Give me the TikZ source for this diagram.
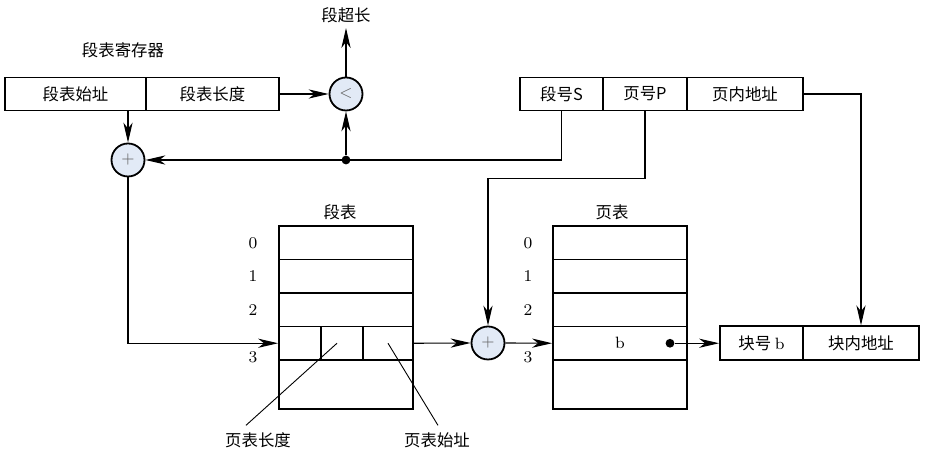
\documentclass[tikz,border=0pt]{standalone}
\usepackage{fontspec}
\newfontfamily\cjk{Noto Sans CJK SC}
\usetikzlibrary{positioning, arrows.meta, calc}
\definecolor{opfill}{RGB}{226,234,246}

\begin{document}
\begin{tikzpicture}[x=0.5pt, y=0.5pt,
    cell/.style={
      draw, line width=0.9pt, minimum height=16.5pt, inner sep=0pt,
      font=\fontsize{8.2}{10}\selectfont\cjk
    },
    row/.style={draw, line width=0.9pt, minimum width=67pt, minimum height=16.75pt, inner sep=0pt},
    op/.style={circle, draw, line width=0.9pt, fill=opfill, minimum size=16.5pt, inner sep=0pt,
      font=\fontsize{8.5}{10}\selectfont, text=black!60},
    arr/.style={-{Stealth[length=10pt, width=4.6pt, inset=3pt]}, line width=0.55pt},
    lbl/.style={font=\fontsize{8.2}{10}\selectfont\cjk},
    num/.style={font=\fontsize{8.2}{10}\selectfont},
    dot/.style={circle, fill, inner sep=0pt, minimum size=4.4pt}
  ]
    \useasboundingbox (0,0) rectangle (928,460);

    % Segment table register
    \node[cell, minimum width=70.5pt] (sbase) at (75.5,366)  {段表始址};
    \node[cell, minimum width=66.5pt] (slen)  at (212.5,366) {段表长度};
    \node[lbl] (reg) at (123,410) {段表寄存器};

    % Logical address
    \node[cell, minimum width=41.5pt] (sno)  at (561.5,366) {段号S};
    \node[cell, minimum width=42pt]   (pno)  at (645,366)   {页号P};
    \node[cell, minimum width=58pt]   (poff) at (745,366)   {页内地址};

    % Comparator and adders
    \node[op] (cmp)  at (346,366) {$<$};
    \node[op] (add1) at (128,300) {$+$};
    \node[op] (add2) at (488,117) {$+$};
    \coordinate (ovr) at (346,432);
    \node[lbl] (ovrlbl) at (346,445) {段超长};

    % Segment table
    \node[lbl] (sttitle) at (340,248) {段表};
    \foreach \i in {0,1,2} {
      \node[row] (st\i) at (346,217.25-33.5*\i) {};
      \node[num] at (253,217.25-33.5*\i) {\i};
    }
    \node[row, minimum width=21pt] (sc1) at (300,116.75) {};
    \node[row, minimum width=21pt] (sc2) at (342,116.75) {};
    \node[row, minimum width=25pt] (sc3) at (388,116.75) {};
    \node[row, minimum height=24.5pt] (st4) at (346,75.5) {};
    \node[num] at (253,103) {3};

    % Page table
    \node[lbl] (pttitle) at (612,248) {页表};
    \foreach \i in {0,1,2} {
      \node[row] (pt\i) at (620,217.25-33.5*\i) {};
      \node[num] at (528,217.25-33.5*\i) {\i};
    }
    \node[row, num] (pt3) at (620,116.75) {b};
    \node[row, minimum height=24.5pt] (pt4) at (620,75.5) {};
    \node[num] at (528,103) {3};
    \node[dot] (bdot) at (670,116.75) {};

    % Physical address
    \node[cell, minimum width=41.5pt, minimum height=17pt] (bno)  at (761.5,116.75) {块号 {\rmfamily b}};
    \node[cell, minimum width=58pt, minimum height=17pt]   (boff) at (861,116.75)   {块内地址};

    % Connectors
    \draw[arr] (slen.east) -- (cmp.west);
    \draw[arr] (cmp.north) -- (ovr);
    \draw[arr] (add1 |- sbase.south) -- (add1.north);
    \draw[arr] (sno.south) |- (add1.east);
    \node[dot] (j1) at (cmp |- add1) {};
    \draw[arr] (j1) -- (cmp.south);
    \draw[arr] (add1.south) |- (sc1.west);
    \draw[arr] (sc3.east) -- (add2.west);
    \draw[arr] (pno.south) -- ++(0,-67) -| (add2.north);
    \draw[arr] (add2.east) -- (pt3.west);
    \draw[arr] (bdot) -- (bno.west);
    \draw[arr] (poff.east) -| (boff.north);

    % Leader lines
    \node[lbl] (plen)  at (258,20) {页表长度};
    \node[lbl] (pbase) at (437,20) {页表始址};
    \draw[line width=0.45pt] ($(plen.north)+(-12,0)$) -- ($(sc2.center)+(-5,0)$);
    \draw[line width=0.45pt] ($(pbase.north)+(1,0)$) -- (sc3.center);
  \end{tikzpicture}
\end{document}
